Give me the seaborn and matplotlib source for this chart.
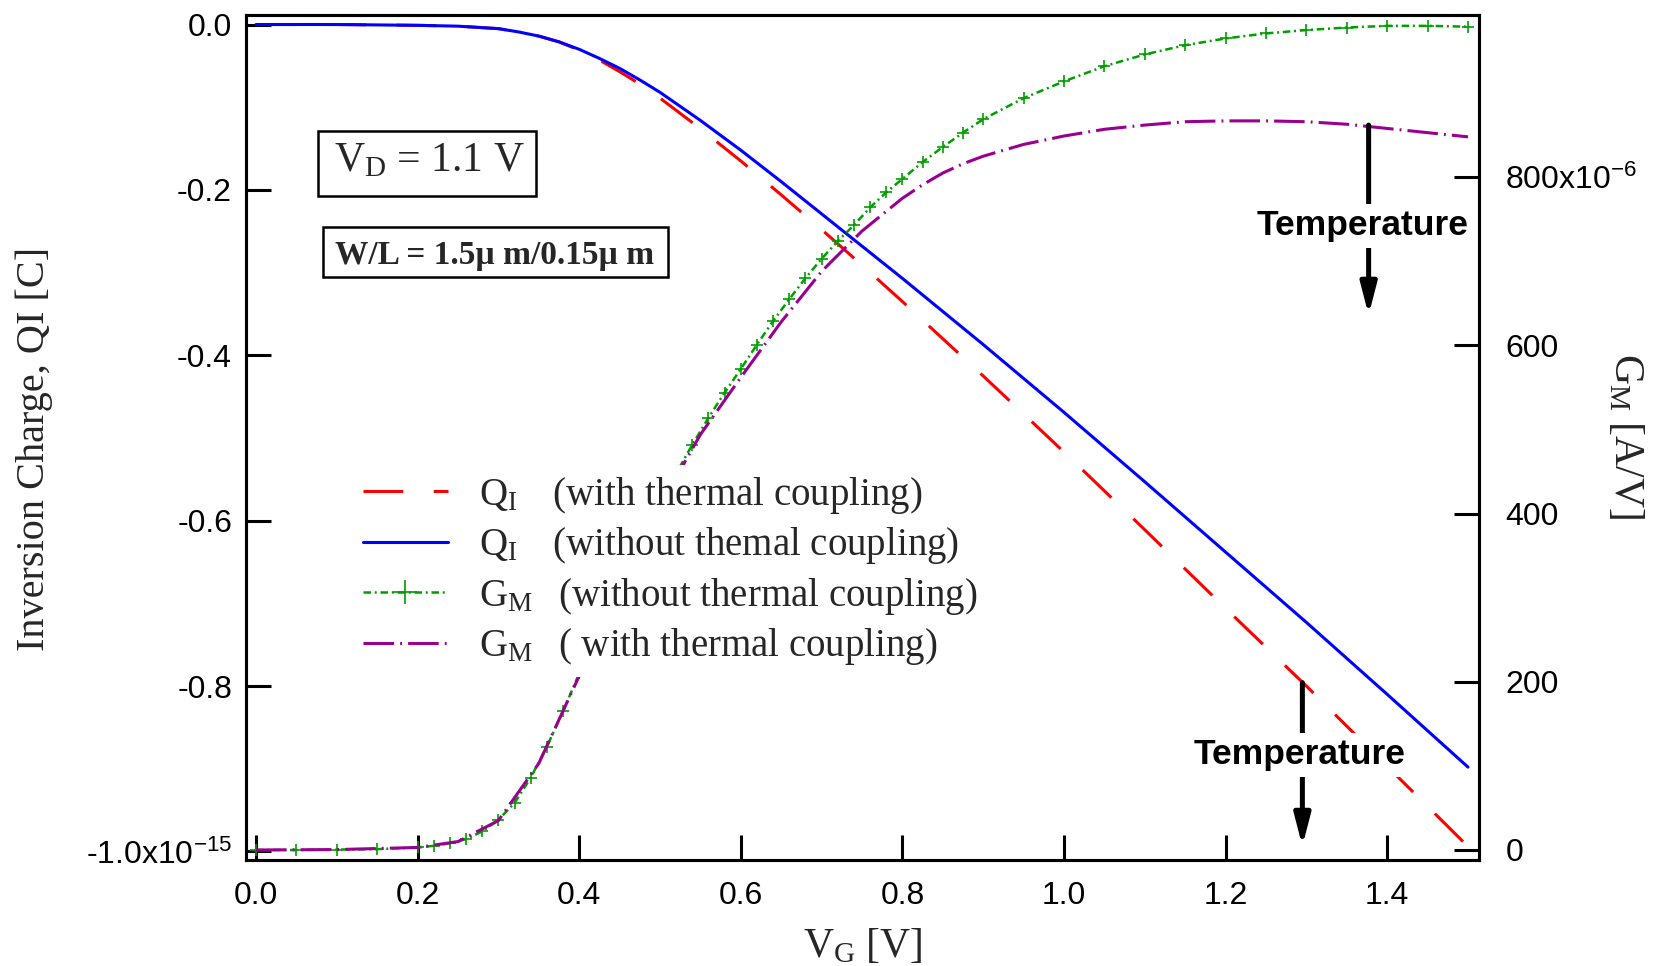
import matplotlib
matplotlib.use("Agg")
import matplotlib.pyplot as plt
import seaborn as sns
from matplotlib.patches import Rectangle

# ---------------- data ----------------
vg_q = [0.0, 0.1, 0.2, 0.25, 0.3, 0.325, 0.35, 0.375, 0.4, 0.425, 0.45, 0.475,
        0.5, 0.55, 0.6, 0.65, 0.7, 0.75, 0.8, 0.85, 0.9, 0.95, 1.0, 1.1, 1.2,
        1.3, 1.4, 1.5]
qi_without = [0.0, 0.0, -0.001, -0.002, -0.005, -0.009, -0.014, -0.021, -0.030,
              -0.041, -0.053, -0.067, -0.082, -0.116, -0.152, -0.190, -0.229,
              -0.268, -0.307, -0.347, -0.387, -0.428, -0.469, -0.553, -0.638,
              -0.723, -0.810, -0.898]
qi_with = [0.0, 0.0, -0.001, -0.002, -0.005, -0.009, -0.014, -0.021, -0.031,
           -0.043, -0.057, -0.072, -0.089, -0.126, -0.165, -0.206, -0.248,
           -0.291, -0.335, -0.380, -0.425, -0.471, -0.517, -0.611, -0.706,
           -0.800, -0.897, -0.994]

vg_gm = [0.0, 0.05, 0.1, 0.15, 0.2, 0.22, 0.24, 0.26, 0.28, 0.30, 0.32, 0.34,
         0.36, 0.38, 0.40, 0.42, 0.44, 0.46, 0.48, 0.50, 0.52, 0.54, 0.56, 0.58,
         0.60, 0.62, 0.64, 0.66, 0.68, 0.70, 0.72, 0.74, 0.76, 0.78, 0.80,
         0.825, 0.85, 0.875, 0.90, 0.95, 1.0, 1.05, 1.1, 1.15, 1.2, 1.25, 1.3,
         1.35, 1.4, 1.45, 1.5]
gm_without = [0, 0, 0.5, 1, 3, 5, 8, 13, 22, 36, 56, 86, 123, 165, 210, 254,
              298, 340, 378, 414, 448, 482, 514, 544, 572, 601, 629, 655, 680,
              703, 724, 743, 764, 782, 798, 818, 836, 853, 869, 894, 914, 932,
              946, 957, 965, 971, 975, 978, 980, 980, 979]

vg_gm_th = [0.0, 0.1, 0.2, 0.25, 0.3, 0.35, 0.4, 0.45, 0.5, 0.55, 0.6, 0.65,
            0.7, 0.75, 0.8, 0.825, 0.85, 0.875, 0.9, 0.95, 1.0, 1.05, 1.1, 1.15,
            1.2, 1.25, 1.3, 1.35, 1.4, 1.45, 1.5]
gm_with = [0, 0.5, 3, 10, 35, 103, 207, 318, 410, 494, 562, 628, 688, 736, 775,
           791, 805, 816, 825, 839, 849, 857, 862, 866, 867, 867, 866, 863, 858,
           853, 848]

x_ticks = [0.0, 0.2, 0.4, 0.6, 0.8, 1.0, 1.2, 1.4]
x_tick_labels = ["0.0", "0.2", "0.4", "0.6", "0.8", "1.0", "1.2", "1.4"]
q_ticks = [0.0, -0.2, -0.4, -0.6, -0.8, -1.0]
q_tick_labels = ["0.0", "-0.2", "-0.4", "-0.6", "-0.8", "-1.0x10$^{-15}$"]
gm_ticks = [0, 200, 400, 600, 800]
gm_tick_labels = ["0", "200", "400", "600", "800x10$^{-6}$"]

legend_labels = [
    "Q$_{I}\\,$   (with thermal coupling)",
    "Q$_{I}\\,$   (without themal coupling)",
    "G$_{M}\\,$  (without thermal coupling)",
    "G$_{M}\\,$  ( with thermal coupling)",
]

# ---------------- style ----------------
sns.set_theme(style="white")
plt.rcParams["font.family"] = ["Liberation Sans", "DejaVu Sans"]
plt.rcParams["mathtext.default"] = "regular"
SERIF = ["Liberation Serif", "DejaVu Serif"]

W, H = 1658, 966
fig = plt.figure(figsize=(W / 100, H / 100), dpi=100)
fig.patch.set_facecolor("white")
L, R, T, B = 246, 1479, 15, 860
ax = fig.add_axes([L / W, 1 - B / H, (R - L) / W, (B - T) / H])
ax2 = ax.twinx()

RED, BLUE, GREEN, PURPLE = "#FF0000", "#0000FF", "#009E00", "#990090"

sns.lineplot(x=vg_q, y=qi_with, ax=ax, color=RED, lw=2.2,
             linestyle=(0, (13, 10)), legend=False)
sns.lineplot(x=vg_q, y=qi_without, ax=ax, color=BLUE, lw=2.2,
             linestyle="-", legend=False)
sns.lineplot(x=vg_gm, y=gm_without, ax=ax2, color=GREEN, lw=1.8,
             linestyle=(0, (3, 1.5, 0.8, 1.5)), marker="+", markersize=8,
             markeredgecolor=GREEN, markeredgewidth=1.2, legend=False)
sns.lineplot(x=vg_gm_th, y=gm_with, ax=ax2, color=PURPLE, lw=2.2,
             linestyle=(0, (10, 2, 0.6, 2)), legend=False)

# axes limits / ticks
ax.set_xlim(-0.0124, 1.5136)
ax.set_ylim(-1.0103, 0.0115)
ax2.set_ylim(-11.9, 992.9)

ax.set_xticks(x_ticks)
ax.set_xticklabels(x_tick_labels)
ax.set_yticks(q_ticks)
ax.set_yticklabels(q_tick_labels)
ax2.set_yticks(gm_ticks)
ax2.set_yticklabels(gm_tick_labels)

for a in (ax, ax2):
    for s in a.spines.values():
        s.set_color("black")
        s.set_linewidth(2.2)
    a.grid(False)

ax.tick_params(axis="x", direction="in", length=18, width=2.2, labelsize=23,
               pad=15, top=False, bottom=True, colors="black")
ax.tick_params(axis="y", direction="in", length=18, width=2.2, labelsize=23,
               pad=10, left=True, right=False, colors="black")
ax2.tick_params(axis="y", direction="in", length=18, width=2.2, labelsize=23,
                pad=19, right=True, left=False, colors="black")

# axis labels
ax.set_xlabel("V$_{G}$ [V]", fontfamily=SERIF, fontsize=30, va="baseline")
ax.xaxis.set_label_coords(0.5, -0.1148)
ax.set_ylabel("Inversion Charge, QI [C]", fontfamily=SERIF, fontsize=29,
              va="center")
ax.yaxis.set_label_coords(-0.1720, 0.4864)
ax2.set_ylabel("G$_{M}$ [A/V]", fontfamily=SERIF, fontsize=30, rotation=270,
               va="center", ha="center")
ax2.yaxis.set_label_coords(1.119, 0.5018)

# legend (opaque white, no frame line)
handles = ax.lines[:2] + ax2.lines[:2]
leg = ax2.legend(handles, legend_labels, loc="upper left",
                 bbox_to_anchor=(353 / W, 1 - 465 / H),
                 bbox_transform=fig.transFigure,
                 prop={"family": SERIF, "size": 28}, frameon=True,
                 facecolor="white", edgecolor="none", framealpha=1,
                 fancybox=False, borderpad=0.25, labelspacing=0.245,
                 handlelength=2.2, handletextpad=0.8, markerscale=2.2,
                 numpoints=1, borderaxespad=0)
leg.set_zorder(10)

# parameter boxes
def px_to_ax(xp, yp):
    return (xp - L) / (R - L), (B - yp) / (B - T)

x0, y0 = px_to_ax(318, 196)
x1, y1 = px_to_ax(536, 131)
ax2.add_patch(Rectangle((x0, y0), x1 - x0, y1 - y0, transform=ax2.transAxes,
                        facecolor="white", edgecolor="black", lw=1.8, zorder=11))
tx, ty = px_to_ax(334, 171)
ax2.text(tx, ty, "V$_{D}$ = 1.1 V", transform=ax2.transAxes, fontfamily=SERIF,
         fontsize=30, ha="left", va="baseline", zorder=12)

x0, y0 = px_to_ax(323, 277)
x1, y1 = px_to_ax(668, 227)
ax2.add_patch(Rectangle((x0, y0), x1 - x0, y1 - y0, transform=ax2.transAxes,
                        facecolor="white", edgecolor="black", lw=1.8, zorder=11))
tx, ty = px_to_ax(335, 264)
ax2.text(tx, ty, "W/L = 1.5µ m/0.15µ m", transform=ax2.transAxes,
         fontfamily=SERIF, fontweight="bold", fontsize=24, ha="left",
         va="baseline", zorder=12)

# Temperature arrows
arrow_style = "-|>,head_length=0.85,head_width=0.22"
for xa, ytop, ytip, xt, yt in [(1.377, 862, 636, 1.369, 742),
                               (1.295, 199, 4.5, 1.292, 113)]:
    ax2.annotate("", xy=(xa, ytip), xytext=(xa, ytop),
                 arrowprops=dict(arrowstyle=arrow_style, lw=3.6, color="black",
                                 shrinkA=0, shrinkB=0, mutation_scale=22),
                 zorder=12)
    ax2.text(xt, yt, "Temperature", ha="center", va="center", fontsize=25.5,
             fontweight="bold", color="black", zorder=13,
             bbox=dict(facecolor="white", edgecolor="none", pad=4))

fig.savefig("out.png", dpi=100, facecolor="white")
